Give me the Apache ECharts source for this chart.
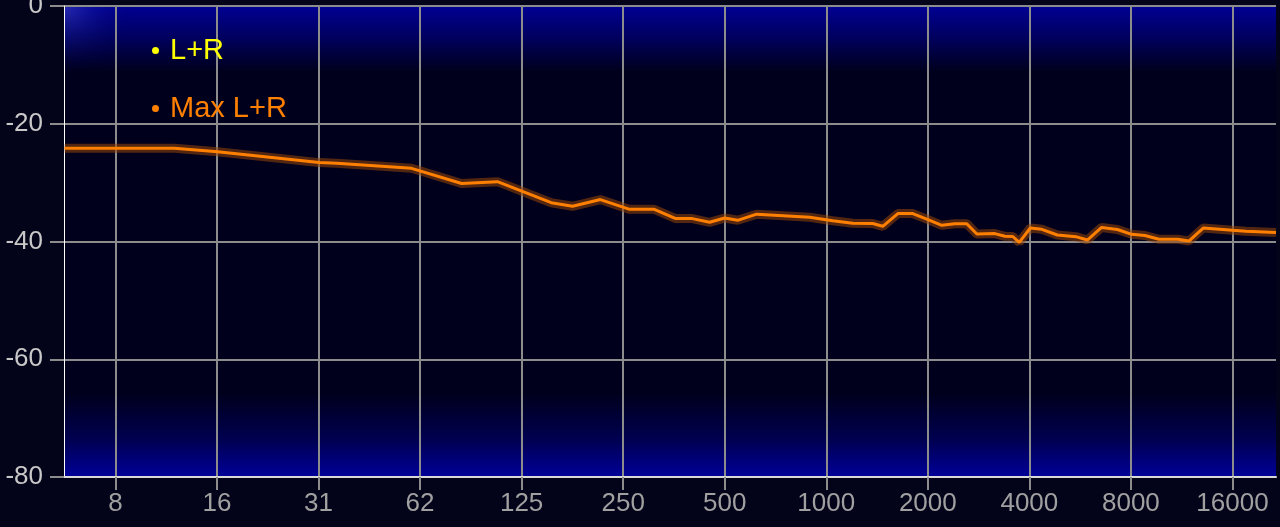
<!DOCTYPE html>
<html>
<head>
<meta charset="utf-8">
<script src="https://cdn.jsdelivr.net/npm/echarts@6/dist/echarts.min.js"></script>
<style>
  html, body { margin: 0; padding: 0; background: #03031a; }
  #chart { width: 1280px; height: 527px; }
</style>
</head>
<body>
<div id="chart"></div>
<script>
// Tick labels (frequency axis, Hz) and their true positions
const tickLabels = ['8', '16', '31', '62', '125', '250', '500', '1000', '2000', '4000', '8000', '16000'];
const tickFreqs = [7.8125, 15.625, 31.25, 62.5, 125, 250, 500, 1000, 2000, 4000, 8000, 16000];

// Series names and colours
const seriesNames = ['L+R', 'Max L+R'];
const seriesColors = ['#ffff00', '#ff8000'];

// Frequencies (Hz) of the Max L+R curve vertices
const freqs = [5.52, 11.69, 15.68, 31.4, 35.4, 59, 83, 106, 153, 177, 214, 260, 308, 358, 401, 451, 500, 546, 622,
  893, 1045, 1198, 1373, 1471, 1630, 1805, 1986, 2201, 2404, 2610, 2795, 3160, 3385, 3573, 3734, 4027, 4356,
  4843, 5494, 5942, 6549, 7297, 8038, 8805, 9688, 11025, 11885, 13105, 16000, 17540, 21540];
// Max L+R level (dB)
const maxLR = [-24.17, -24.17, -24.75, -26.6, -26.7, -27.57, -30.15, -29.84, -33.41, -34.02, -32.88, -34.51, -34.51,
  -36.11, -36.11, -36.74, -36.01, -36.4, -35.36, -35.87, -36.47, -36.91, -36.94, -37.42, -35.26, -35.26, -36.21,
  -37.25, -36.98, -36.98, -38.73, -38.66, -39.12, -39.15, -40.14, -37.71, -37.93, -38.9, -39.18, -39.75, -37.62,
  -37.96, -38.78, -38.98, -39.63, -39.63, -39.92, -37.71, -38.1, -38.27, -38.47];
// L+R level (dB) - no visible trace
const lr = [];

const xMinFreq = 5.5, xMaxFreq = 21540;
const toX = f => Math.log2(f / 1000);
const maxData = freqs.map((f, i) => [toX(f), maxLR[i]]);
const lrData = lr.map((v, i) => [toX(freqs[i]), v]);
const tickVals = tickFreqs.map(toX);

const chart = echarts.init(document.getElementById('chart'));
chart.setOption({
  backgroundColor: '#03031a',
  animation: false,
  grid: {
    left: 64, right: 4, top: 6, bottom: 50,
    outerBoundsMode: 'none',
    containLabel: false,
    show: true,
    borderWidth: 0,
    backgroundColor: {
      type: 'linear', x: 0, y: 0, x2: 0, y2: 1,
      colorStops: [
        { offset: 0, color: '#000094' },
        { offset: 0.06, color: '#000064' },
        { offset: 0.14, color: '#00001c' },
        { offset: 0.82, color: '#00001c' },
        { offset: 0.92, color: '#000050' },
        { offset: 1, color: '#00009a' }
      ]
    }
  },
  graphic: [{
    type: 'rect',
    silent: true,
    z: 0,
    shape: { x: 64, y: 6, width: 70, height: 90 },
    style: {
      fill: {
        type: 'radial', x: 0, y: 0, r: 1,
        colorStops: [
          { offset: 0, color: 'rgba(110,120,240,0.35)' },
          { offset: 0.45, color: 'rgba(60,70,200,0.15)' },
          { offset: 1, color: 'rgba(0,0,80,0)' }
        ]
      }
    }
  }],
  legend: {
    data: seriesNames.map((n, i) => ({ name: n, textStyle: { color: seriesColors[i] } })),
    orient: 'vertical',
    left: 147,
    top: 31,
    itemGap: 29,
    itemWidth: 7,
    itemHeight: 7,
    icon: 'circle',
    textStyle: { fontFamily: 'Liberation Sans, Arial, sans-serif', fontSize: 29, padding: [0, 0, 0, 6] },
    selectedMode: false
  },
  xAxis: {
    type: 'value',
    min: toX(xMinFreq),
    max: toX(xMaxFreq),
    axisLine: { show: true, onZero: false, lineStyle: { color: '#d8d8d8', width: 2 } },
    axisTick: { show: true, customValues: tickVals, length: 13, lineStyle: { color: '#8c8c8c', width: 2 } },
    axisLabel: {
      customValues: tickVals,
      color: '#a0a0a0',
      fontFamily: 'Liberation Sans, Arial, sans-serif',
      fontSize: 26,
      margin: 14,
      formatter: v => tickLabels[tickVals.findIndex(t => Math.abs(t - v) < 1e-6)]
    },
    splitLine: { show: true, lineStyle: { color: '#8c8c8c', width: 2 } }
  },
  yAxis: {
    type: 'value',
    min: -80, max: 0, interval: 20,
    axisLine: { show: true, onZero: false, lineStyle: { color: '#ffffff', width: 1 } },
    axisTick: { show: true, length: 14, lineStyle: { color: '#8c8c8c', width: 2 } },
    axisLabel: {
      color: '#c8c8c8',
      fontFamily: 'Liberation Sans, Arial, sans-serif',
      fontSize: 26,
      margin: 21
    },
    splitLine: { show: true, lineStyle: { color: '#8c8c8c', width: 2 } }
  },
  series: [
    {
      name: seriesNames[0],
      type: 'line',
      data: lrData,
      showSymbol: false,
      color: seriesColors[0],
      lineStyle: { color: seriesColors[0], width: 3 }
    },
    {
      name: 'Max L+R halo',
      type: 'line',
      data: maxData,
      showSymbol: false,
      silent: true,
      lineStyle: { color: 'rgba(150,70,10,0.55)', width: 9 },
      z: 3
    },
    {
      name: seriesNames[1],
      type: 'line',
      data: maxData,
      showSymbol: false,
      color: seriesColors[1],
      lineStyle: { color: seriesColors[1], width: 3 },
      z: 4
    }
  ]
});
</script>
</body>
</html>
